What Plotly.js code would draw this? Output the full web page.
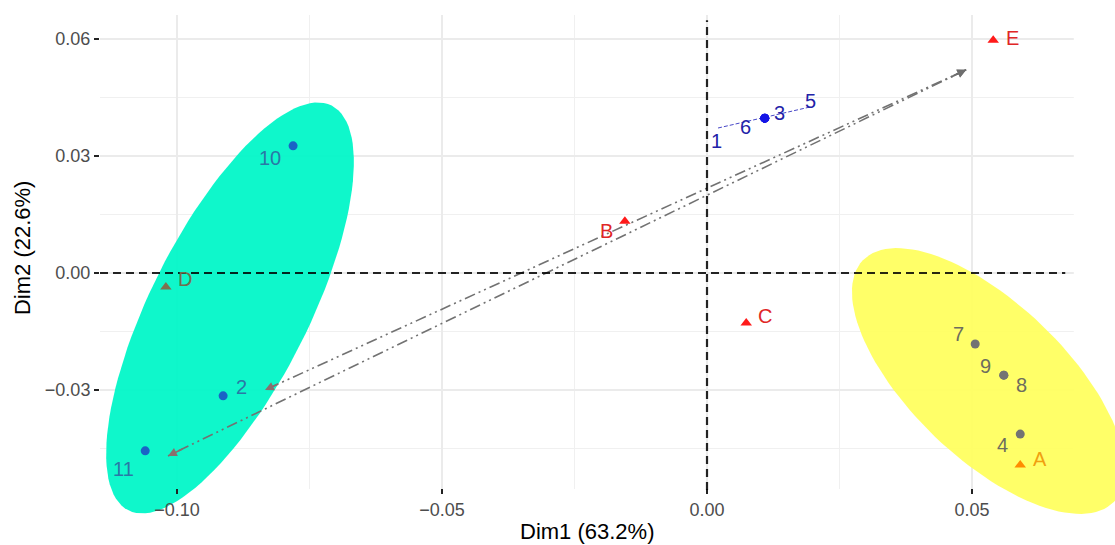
<!DOCTYPE html>
<html>
<head>
<meta charset="utf-8">
<script src="https://cdn.plot.ly/plotly-3.0.1.min.js"></script>
<style>html,body{margin:0;padding:0;background:#fff;}#chart{width:1115px;height:545px;}</style>
</head>
<body>
<div id="chart"></div>
<script>
// ---- Individuals (rows) ----
const indNames = ['1','2','3','4','5','6','7','8','9','10','11'];
const indDim1  = [0.0109, -0.0913, 0.0109, 0.0591, 0.0109, 0.0109, 0.0506, 0.0560, 0.0560, -0.0781, -0.1060];
const indDim2  = [0.0397, -0.0315, 0.0397, -0.0413, 0.0397, 0.0397, -0.0182, -0.0262, -0.0262, 0.0326, -0.0456];
const indGroup = ['blue','cyan','blue','grey','blue','blue','grey','grey','grey','cyan','cyan'];

// ---- Variables (columns) ----
const varNames = ['A','B','C','D','E'];
const varDim1  = [0.0591, -0.0155, 0.0074, -0.1021, 0.0540];
const varDim2  = [-0.0492, 0.0133, -0.0128, -0.0036, 0.0597];

// ---- Arrows (tail -> heads) ----
const arrowFromDim1 = [0.0489, 0.0489];
const arrowFromDim2 = [0.0521, 0.0521];
const arrowToDim1   = [-0.1017, -0.0834];
const arrowToDim2   = [-0.0469, -0.0300];

// ---- Cluster line for group of 1,3,5,6 ----
const clusterLineDim1 = [0.00208, 0.01943];
const clusterLineDim2 = [0.03718, 0.04256];

// ---- Ellipses: center, major semi-axis vector, minor semi-axis vector ----
const ellCyanCenter = [-0.0900, -0.00897];
const ellCyanMajor  = [0.01919, 0.0519];
const ellCyanMinor  = [0.01334, -0.00912];
const ellYellowCenter = [0.05311, -0.02769];
const ellYellowMajor  = [0.02370, -0.03095];
const ellYellowMinor  = [-0.01011, -0.01428];

// ---- Axes ----
const xRange = [-0.11453, 0.07698];
const yRange = [-0.065897, 0.066154];
const panelRightX = 0.0692;    // right edge of the gridded panel
const panelBottomY = -0.0554;  // bottom edge of the gridded panel
const xTicks = [-0.10, -0.05, 0.00, 0.05];
const yTicks = [-0.03, 0.00, 0.03, 0.06];
const xMinor = [-0.075, -0.025, 0.025, 0.075];
const yMinor = [-0.045, -0.015, 0.015, 0.045];
const xTitle = 'Dim1 (63.2%)';
const yTitle = 'Dim2 (22.6%)';

// ---- Styles ----
const FONT = 'Liberation Sans, Arial, sans-serif';
const groupPointColor = {blue:'#1414e6', cyan:'#1a63c6', grey:'#737373'};
const groupLabelColor = {blue:'#2222a8', cyan:'#2a78a6', grey:'#6d6d5e'};
const varPointColor = {A:'#ff8c00', B:'#ff1a1a', C:'#ff1a1a', D:'#7d7250', E:'#ff1a1a'};
const varLabelColor = {A:'#f0a010', B:'#e02626', C:'#e02626', D:'#6f6e4e', E:'#e02626'};
// label pixel offsets [dx, dy(up)]
const indLabelOffset = {
  '1':[-48,-23], '2':[18,9], '3':[15,5], '4':[-18,-11], '5':[46,17], '6':[-19,-9],
  '7':[-17,10], '8':[18,-10], '9':[-18,9], '10':[-23,-12], '11':[-22,-18]
};
const varLabelOffset = {A:[20,6], B:[-18,-10], C:[19,7], D:[19,8], E:[19,2]};

function ellipsePts(c, M, m) {
  const xs = [], ys = [];
  const n = 120;
  for (let i = 0; i <= n; i++) {
    const t = 2 * Math.PI * i / n;
    xs.push(c[0] + Math.cos(t) * M[0] + Math.sin(t) * m[0]);
    ys.push(c[1] + Math.cos(t) * M[1] + Math.sin(t) * m[1]);
  }
  return [xs, ys];
}

const traces = [];
// white masks: hide grid outside the original gridded panel
traces.push({x:[panelRightX, xRange[1], xRange[1], panelRightX, panelRightX],
  y:[yRange[0], yRange[0], yRange[1], yRange[1], yRange[0]], type:'scatter', mode:'lines', fill:'toself',
  fillcolor:'#ffffff', line:{width:0, color:'rgba(0,0,0,0)'}, hoverinfo:'skip', showlegend:false});
traces.push({x:[xRange[0], xRange[1], xRange[1], xRange[0], xRange[0]],
  y:[yRange[0], yRange[0], panelBottomY, panelBottomY, yRange[0]], type:'scatter', mode:'lines', fill:'toself',
  fillcolor:'#ffffff', line:{width:0, color:'rgba(0,0,0,0)'}, hoverinfo:'skip', showlegend:false});

const eC = ellipsePts(ellCyanCenter, ellCyanMajor, ellCyanMinor);
traces.push({x: eC[0], y: eC[1], type:'scatter', mode:'lines', fill:'toself',
  fillcolor:'rgba(0,246,200,0.94)', line:{width:0, color:'rgba(0,0,0,0)'}, hoverinfo:'skip', showlegend:false});
const eY = ellipsePts(ellYellowCenter, ellYellowMajor, ellYellowMinor);
traces.push({x: eY[0], y: eY[1], type:'scatter', mode:'lines', fill:'toself',
  fillcolor:'rgba(255,255,92,0.93)', line:{width:0, color:'rgba(0,0,0,0)'}, hoverinfo:'skip', showlegend:false});

// arrows lines
for (let i = 0; i < arrowToDim1.length; i++) {
  traces.push({x:[arrowFromDim1[i], arrowToDim1[i]], y:[arrowFromDim2[i], arrowToDim2[i]],
    type:'scatter', mode:'lines', line:{color:'#727272', width:1.6, dash:'11px,4px,2px,4px,2px,4px'},
    hoverinfo:'skip', showlegend:false});
}
// cluster line
traces.push({x: clusterLineDim1, y: clusterLineDim2, type:'scatter', mode:'lines',
  line:{color:'#4848c8', width:1, dash:'4px,2px'}, hoverinfo:'skip', showlegend:false});

// individuals points
traces.push({x: indDim1, y: indDim2, type:'scatter', mode:'markers',
  marker:{symbol:'circle', size:9, color: indGroup.map(g => groupPointColor[g])},
  hoverinfo:'text', text: indNames, showlegend:false});
// variables points
traces.push({x: varDim1, y: varDim2, type:'scatter', mode:'markers',
  marker:{symbol:'triangle-up', size:10, color: varNames.map(v => varPointColor[v])},
  hoverinfo:'text', text: varNames, showlegend:false});

const annotations = [];
indNames.forEach((n, i) => {
  annotations.push({x: indDim1[i], y: indDim2[i], xref:'x', yref:'y', text: n, showarrow:false,
    xshift: indLabelOffset[n][0], yshift: indLabelOffset[n][1],
    font:{family:FONT, size:20, color: groupLabelColor[indGroup[i]]}});
});
varNames.forEach((n, i) => {
  annotations.push({x: varDim1[i], y: varDim2[i], xref:'x', yref:'y', text: n, showarrow:false,
    xshift: varLabelOffset[n][0], yshift: varLabelOffset[n][1],
    font:{family:FONT, size:20, color: varLabelColor[n]}});
});
// arrowheads
for (let i = 0; i < arrowToDim1.length; i++) {
  const hx = arrowToDim1[i], hy = arrowToDim2[i], tx = arrowFromDim1[i], ty = arrowFromDim2[i];
  annotations.push({x: hx, y: hy, ax: hx + (tx - hx) * 0.02, ay: hy + (ty - hy) * 0.02,
    xref:'x', yref:'y', axref:'x', ayref:'y', text:'', showarrow:true,
    arrowhead:2, arrowsize:1.1, arrowwidth:1.6, arrowcolor:'#8a6e6e'});
  annotations.push({x: tx, y: ty, ax: tx + (hx - tx) * 0.02, ay: ty + (hy - ty) * 0.02,
    xref:'x', yref:'y', axref:'x', ayref:'y', text:'', showarrow:true,
    arrowhead:2, arrowsize:1.1, arrowwidth:1.6, arrowcolor:'#6e6e6e'});
}
// axis titles (centred on the original panel)
annotations.push({xref:'paper', yref:'paper', x:0.48, y:-0.002, xanchor:'center', yanchor:'middle',
  text:xTitle, showarrow:false, font:{family:FONT, size:22, color:'#000'}});
annotations.push({xref:'paper', yref:'paper', x:-0.0758, y:0.5476, xanchor:'center', yanchor:'middle',
  textangle:-90, text:yTitle, showarrow:false, font:{family:FONT, size:22, color:'#000'}});

const axisCommon = {
  showgrid:true, gridcolor:'#ebebeb', gridwidth:1.6, zeroline:false, showline:false,
  ticks:'outside', ticklen:5, tickwidth:1.5, tickcolor:'#222', automargin:false,
  tickformat:'.2f', tickfont:{family:FONT, size:18, color:'#4d4d4d'}
};

const panelBottom = 0.0816; // paper fraction where the x axis sits

const layout = {
  width:1115, height:545,
  margin:{l:100, r:0, t:15, b:15},
  paper_bgcolor:'#ffffff', plot_bgcolor:'#ffffff',
  showlegend:false,
  xaxis: Object.assign({}, axisCommon, {
    range:xRange, tickmode:'array', tickvals:xTicks,
    anchor:'free', position:panelBottom,
    minor:{tickmode:'array', tickvals:xMinor, showgrid:true, gridcolor:'#f0f0f0', gridwidth:1.2, ticks:''}
  }),
  yaxis: Object.assign({}, axisCommon, {
    range:yRange, tickmode:'array', tickvals:yTicks,
    minor:{tickmode:'array', tickvals:yMinor, showgrid:true, gridcolor:'#f0f0f0', gridwidth:1.2, ticks:''}
  }),
  shapes:[
    {type:'line', xref:'x', yref:'y domain', x0:0, x1:0, y0:0.0777, y1:0.99, layer:'above',
      line:{color:'rgba(0,0,0,0.85)', width:2.2, dash:'8px,5px'}},
    {type:'line', xref:'x domain', yref:'y', x0:0, x1:0.951, y0:0, y1:0, layer:'above',
      line:{color:'rgba(0,0,0,0.85)', width:2.2, dash:'8px,5px'}}
  ],
  annotations: annotations
};

Plotly.newPlot('chart', traces, layout, {staticPlot:true, displayModeBar:false});
</script>
</body>
</html>
